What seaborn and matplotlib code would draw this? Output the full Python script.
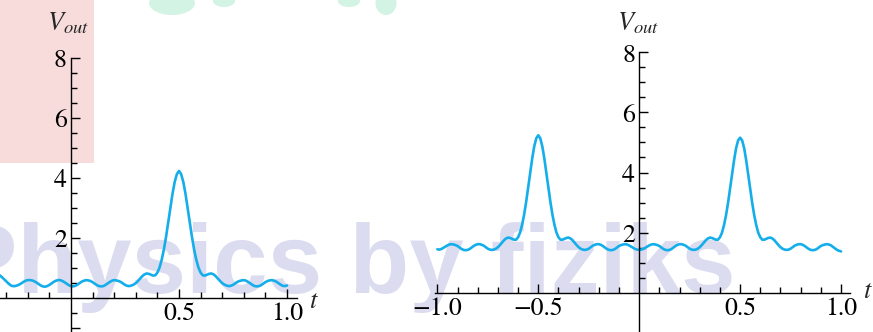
import numpy as np
import matplotlib
matplotlib.use("Agg")
import matplotlib.pyplot as plt
from matplotlib.patches import Rectangle, Ellipse
import seaborn as sns

# ---- data -------------------------------------------------------------
# single pulse train (left) sampled every 0.01 from t = -0.33 to 1.00
t_single = np.round(np.arange(-0.33, 1.0001, 0.01), 2)
v_single = [
    0.74, 0.68, 0.61, 0.54, 0.47, 0.41, 0.38, 0.38, 0.40, 0.43,
    0.47, 0.52, 0.56, 0.58, 0.58, 0.57, 0.54, 0.50, 0.45, 0.40,
    0.37, 0.36, 0.38, 0.42, 0.47, 0.52, 0.56, 0.58, 0.58, 0.55,
    0.51, 0.46, 0.41,
    0.38, 0.37, 0.39, 0.43, 0.48, 0.53, 0.56, 0.58, 0.57, 0.55,
    0.51, 0.46, 0.41, 0.38, 0.37, 0.38, 0.42, 0.47, 0.52, 0.56,
    0.58, 0.57, 0.55, 0.52, 0.47, 0.42, 0.39, 0.38, 0.40, 0.43,
    0.48, 0.55, 0.63, 0.71, 0.77, 0.80, 0.79, 0.76, 0.73, 0.74,
    0.83, 1.00, 1.26, 1.60, 2.02, 2.50, 2.99, 3.46, 3.85, 4.11,
    4.22,
    4.11, 3.85, 3.46, 2.99, 2.50, 2.02, 1.60, 1.26, 1.00, 0.83,
    0.74, 0.73, 0.76, 0.79, 0.80, 0.77, 0.71, 0.63, 0.55, 0.48,
    0.43, 0.40, 0.38, 0.39, 0.42, 0.47, 0.52, 0.55, 0.57, 0.58,
    0.56, 0.52, 0.47, 0.42, 0.38, 0.37, 0.38, 0.41, 0.46, 0.51,
    0.55, 0.57, 0.58, 0.56, 0.53, 0.48, 0.43, 0.39, 0.38, 0.40,
]

# double pulse train (right) sampled every 0.01 from t = -1.00 to 1.00
t_double = np.round(np.linspace(-1.0, 1.0, 201), 2)
v_double = [
    1.44, 1.43, 1.45, 1.49, 1.53, 1.57, 1.60, 1.61, 1.60, 1.58,
    1.55, 1.50, 1.45, 1.42, 1.41, 1.42, 1.45, 1.50, 1.55, 1.59,
    1.61, 1.61, 1.59, 1.56, 1.51, 1.46, 1.43, 1.42, 1.43, 1.46,
    1.51, 1.58, 1.66, 1.74, 1.80, 1.83, 1.82, 1.79, 1.76, 1.76,
    1.84, 2.00, 2.26, 2.60, 3.02, 3.50, 3.99, 4.47, 4.87, 5.14,
    5.24,
    5.14, 4.87, 4.47, 3.99, 3.50, 3.02, 2.60, 2.26, 2.00, 1.84,
    1.76, 1.76, 1.79, 1.82, 1.83, 1.80, 1.74, 1.66, 1.58, 1.51,
    1.46, 1.43, 1.42, 1.43, 1.46, 1.51, 1.56, 1.59, 1.61, 1.61,
    1.59, 1.55, 1.50, 1.45, 1.42, 1.41, 1.42, 1.45, 1.50, 1.55,
    1.58, 1.60, 1.61, 1.60, 1.57, 1.53, 1.49, 1.45, 1.43, 1.42,
    1.43, 1.45, 1.49, 1.53, 1.57, 1.60, 1.61, 1.60, 1.58, 1.55,
    1.50, 1.45, 1.42, 1.41, 1.42, 1.45, 1.50, 1.55, 1.59, 1.61,
    1.61, 1.59, 1.56, 1.51, 1.46, 1.43, 1.42, 1.43, 1.46, 1.51,
    1.58, 1.66, 1.74, 1.80, 1.83, 1.82, 1.79, 1.76, 1.76, 1.84,
    1.99, 2.24, 2.57, 2.98, 3.45, 3.94, 4.41, 4.81, 5.07,
    5.16,
    5.07, 4.81, 4.41, 3.94, 3.45, 2.98, 2.57, 2.24, 1.99, 1.84,
    1.76, 1.76, 1.79, 1.82, 1.83, 1.80, 1.74, 1.66, 1.58, 1.51,
    1.46, 1.43, 1.42, 1.43, 1.46, 1.51, 1.56, 1.59, 1.61, 1.61,
    1.59, 1.55, 1.50, 1.45, 1.42, 1.41, 1.42, 1.45, 1.50, 1.55,
    1.58, 1.60, 1.61, 1.60, 1.57, 1.52, 1.47, 1.42, 1.39, 1.37,
]

y_major = [2, 4, 6, 8]
y_major_labels = ["2", "4", "6", "8"]
x_major_single = [0.5, 1.0]
x_labels_single = ["0.5", "1.0"]
x_major_double = [-1.0, -0.5, 0.5, 1.0]
x_labels_double = ["\u22121.0", "\u22120.5", "0.5", "1.0"]
y_name = r"$V_{out}$"
x_name = r"$t$"
watermark = "Physics by fiziks"

# ---- style ------------------------------------------------------------
sns.set_theme(style="white")
plt.rcParams["font.family"] = ["STIXGeneral", "DejaVu Serif"]
plt.rcParams["mathtext.fontset"] = "stix"
plt.rcParams["axes.unicode_minus"] = True

CURVE = "#14aeea"
W, H = 873, 332
fig = plt.figure(figsize=(W / 100, H / 100), dpi=100)
fig.patch.set_facecolor("white")


def fx(px):
    return px / W


def fy(py):
    return 1 - py / H


# background decorations
fig.add_artist(Rectangle((0, fy(163)), fx(94), 163 / H, transform=fig.transFigure,
                         facecolor="#f8dcdc", edgecolor="none", zorder=-3))
for cx, cy, w, h in [(172, 3, 46, 24), (224, 1, 22, 12),
                     (349, 1, 22, 12), (386, 3, 21, 24)]:
    fig.add_artist(Ellipse((fx(cx), fy(cy)), w / W, h / H, angle=0,
                           transform=fig.transFigure, facecolor="#d3f3e4",
                           edgecolor="none", zorder=-3))
fig.text(fx(-48), fy(293), watermark, fontsize=70.5, fontweight="bold",
         family=["Liberation Sans", "DejaVu Sans"], color="#dcdcf0",
         ha="left", va="baseline", zorder=-2)

# axes
ax1 = fig.add_axes([0, 0, fx(300), 292 / H])
ax1.set_xlim(-71 / 216, 229 / 216)
ax1.set_ylim(-34.5 / 30, 257.5 / 30)

ax2 = fig.add_axes([fx(420), 0, fx(453), 292 / H])
ax2.set_xlim((420 - 639.2) / 201.85, (873 - 639.2) / 201.85)
ax2.set_ylim(-39.5 / 30, 252.5 / 30)

sns.lineplot(x=t_single, y=v_single, ax=ax1, color=CURVE, linewidth=1.9,
             legend=False, solid_capstyle="round")
sns.lineplot(x=t_double, y=v_double, ax=ax2, color=CURVE, linewidth=1.9,
             legend=False, solid_capstyle="round")


def style(ax, xb, yb, xmaj, xlab, xmin, ymaj, ylab, ymin):
    ax.set_facecolor("none")
    ax.grid(False)
    ax.set_xlabel("")
    ax.set_ylabel("")
    for s in ["top", "right"]:
        ax.spines[s].set_visible(False)
    for s in ["left", "bottom"]:
        ax.spines[s].set_position(("data", 0))
        ax.spines[s].set_color("black")
        ax.spines[s].set_linewidth(1.0)
        ax.spines[s].set_zorder(5)
    ax.spines["bottom"].set_bounds(*xb)
    ax.spines["left"].set_bounds(*yb)
    ax.set_xticks(xmaj)
    ax.set_xticklabels(xlab)
    ax.set_xticks(xmin, minor=True)
    ax.set_yticks(ymaj)
    ax.set_yticklabels(ylab)
    ax.set_yticks(ymin, minor=True)
    ax.tick_params(which="both", direction="in", color="black", width=1.0,
                   labelsize=18.5, labelcolor="black",
                   bottom=True, left=True, top=False, right=False)
    ax.tick_params(which="major", length=6.5)
    ax.tick_params(which="minor", length=4)
    ax.tick_params(axis="x", pad=3)
    ax.tick_params(axis="y", pad=3)


minor_x1 = [v for v in np.round(np.arange(-0.3, 1.01, 0.1), 1) if v not in (0.0, 0.5, 1.0)]
minor_y1 = [v for v in np.arange(-0.5, 8, 0.5) if v % 2 != 0 and v != -1]
style(ax1, (-0.4, 1.046), (-1.2, 8), x_major_single, x_labels_single, minor_x1,
      [-1] + y_major, [""] + y_major_labels, minor_y1)

minor_x2 = [v for v in np.round(np.arange(-1.0, 1.01, 0.1), 1) if v not in (-1.0, -0.5, 0.0, 0.5, 1.0)]
minor_y2 = [v for v in np.arange(0.5, 8, 0.5) if v % 2 != 0]
style(ax2, (-1.01, 1.045), (-1.4, 8), x_major_double, x_labels_double, minor_x2,
      y_major, y_major_labels, minor_y2)

# axis names
fig.text(fx(68), fy(11), y_name, ha="center", va="top", fontsize=19)
fig.text(fx(638), fy(11), y_name, ha="center", va="top", fontsize=19)
fig.text(fx(314), fy(302), x_name, ha="center", va="center", fontsize=19)
fig.text(fx(868), fy(292), x_name, ha="center", va="center", fontsize=19)

fig.savefig("out.png", dpi=100)
